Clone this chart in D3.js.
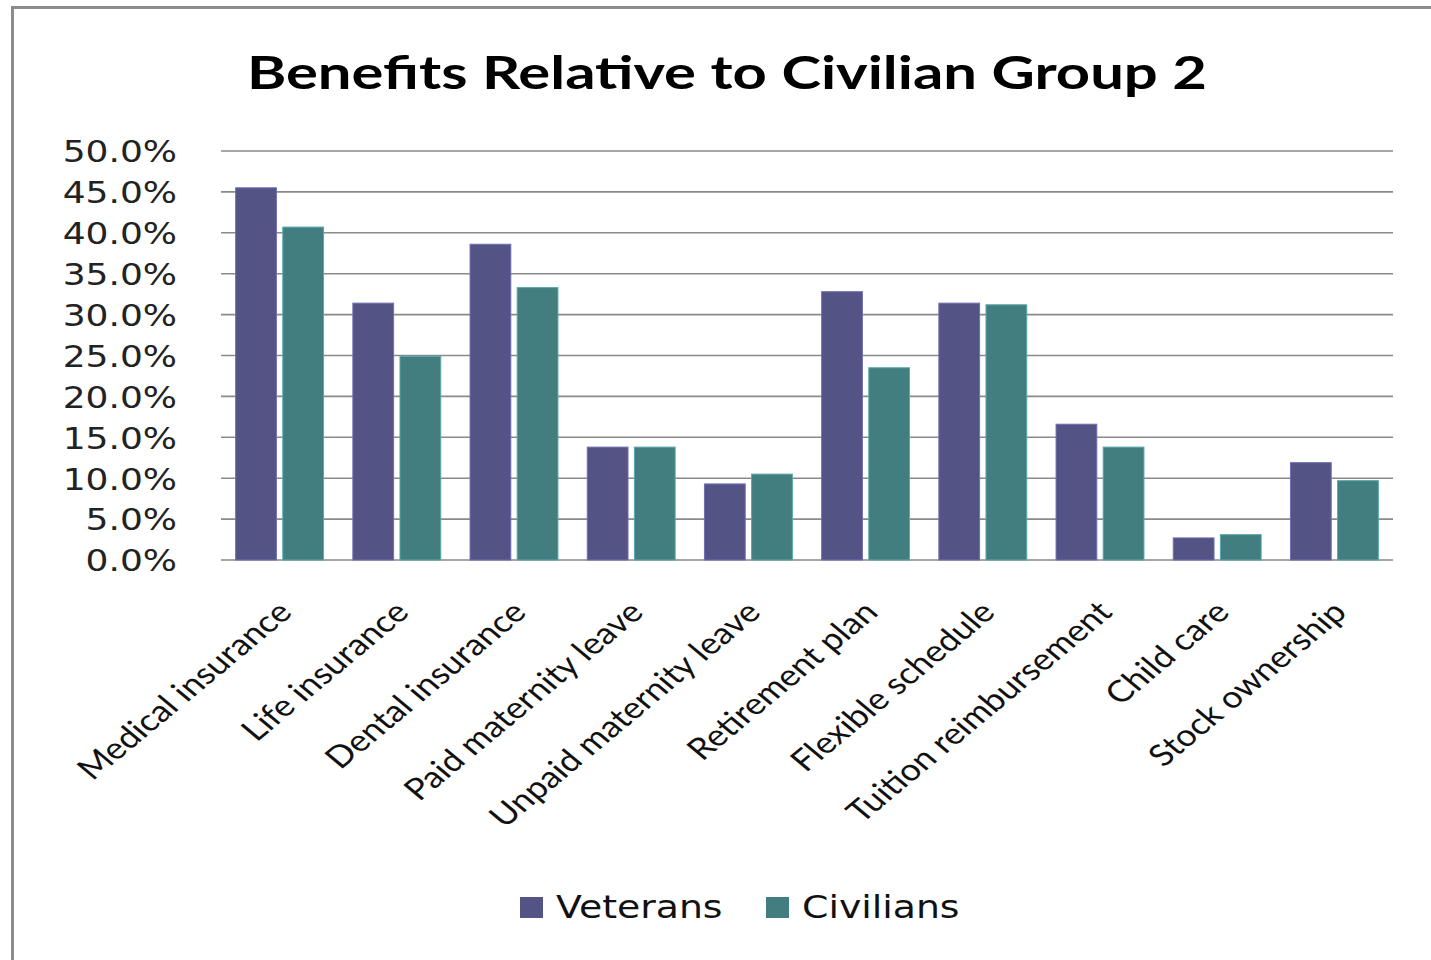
<!DOCTYPE html>
<html><head><meta charset="utf-8">
<script src="https://cdn.jsdelivr.net/npm/d3@7"></script>
<style>body{margin:0;background:#fff}svg{display:block}</style>
</head><body>
<svg id="c" width="1431" height="960"></svg>
<script>
const categories = ["Medical insurance","Life insurance","Dental insurance","Paid maternity leave","Unpaid maternity leave","Retirement plan","Flexible schedule","Tuition reimbursement","Child care","Stock ownership"];
const veterans = [45.5, 31.4, 38.6, 13.8, 9.3, 32.8, 31.4, 16.6, 2.7, 11.9];
const civilians = [40.7, 24.9, 33.3, 13.8, 10.5, 23.5, 31.2, 13.8, 3.1, 9.7];
const seriesNames = ["Veterans","Civilians"];
const seriesColors = ["#545386","#427e80"];
const yTicks = [0,5,10,15,20,25,30,35,40,45,50];
const title = "Benefits Relative to Civilian Group 2";

const SX = 1.2; // horizontal stretch seen in the reference text
const svg = d3.select("#c");
svg.append("rect").attr("x",12.5).attr("y",7.5).attr("width",1440).attr("height",980)
  .attr("fill","#fff").attr("stroke","#8c8c8c").attr("stroke-width",3);

const L=221, R=1393, T=151, B=560;
const x = d3.scaleBand().domain(categories).range([L,R]).paddingInner(0.25).paddingOuter(0.125);
const xs = d3.scaleBand().domain(seriesNames).range([0,x.bandwidth()]).paddingInner(0.135);
const y = d3.scaleLinear().domain([0,50]).range([B,T]);

// gridlines
svg.append("g").selectAll("line").data(yTicks).join("line")
  .attr("x1",L).attr("x2",R).attr("y1",d=>y(d)).attr("y2",d=>y(d))
  .attr("stroke","#8a8a8a").attr("stroke-width",1.6);

// y labels
const yAxis = d3.axisLeft(y).tickValues(yTicks).tickSize(0).tickPadding(0).tickFormat(d=>d.toFixed(1)+"%");
const ya = svg.append("g").attr("transform",`translate(177,0) scale(${SX},1)`).call(yAxis);
ya.select(".domain").remove();
ya.selectAll("text").attr("font-family","DejaVu Sans").attr("font-size",30).attr("fill","#222").attr("dy","0.36em");

// bars
const data = [veterans, civilians];
seriesNames.forEach((s,i)=>{
  svg.append("g").selectAll("rect").data(categories).join("rect")
    .attr("x",c=>x(c)+xs(s)).attr("width",xs.bandwidth())
    .attr("y",(c,j)=>y(data[i][j])).attr("height",(c,j)=>y(0)-y(data[i][j]))
    .attr("fill",seriesColors[i]).attr("stroke",d3.color(seriesColors[i]).brighter(0.8)).attr("stroke-width",1);
});

// x labels
const xl = svg.append("g");
categories.forEach(c=>{
  const cx = x(c)+x.bandwidth()/2+14;
  xl.append("text").attr("transform",`translate(${cx},${614}) scale(${SX},1) rotate(-45)`)
    .attr("text-anchor","end").attr("font-family","Lato").attr("font-size",30).attr("fill","#111").text(c);
});

// title
svg.append("text").attr("x",727).attr("y",89).attr("text-anchor","middle")
  .attr("font-family","Lato").attr("font-weight","bold").attr("font-size",45).attr("fill","#000")
  .attr("textLength",960).attr("lengthAdjust","spacingAndGlyphs").text(title);

// legend
const lx=[520,766];
seriesNames.forEach((s,i)=>{
  svg.append("rect").attr("x",lx[i]).attr("y",897).attr("width",23).attr("height",21).attr("fill",seriesColors[i]);
  svg.append("text").attr("transform",`translate(${lx[i]+36},918) scale(${SX},1)`)
    .attr("font-family","DejaVu Sans").attr("font-size",31.5).attr("fill","#111").text(s);
});
</script>
</body></html>
